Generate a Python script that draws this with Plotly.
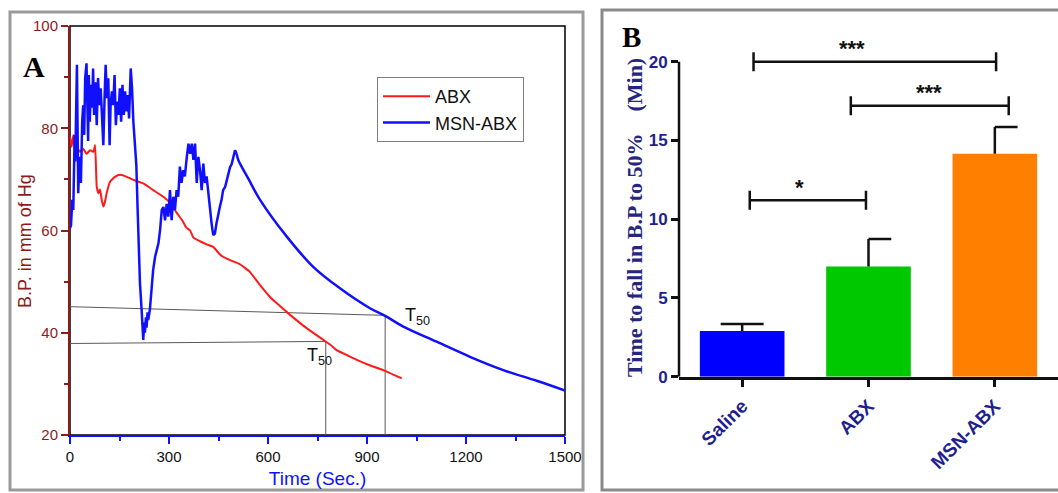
import plotly.graph_objects as go

W, H = 1058, 493

# ---------------- Panel A: blood pressure vs time ----------------
abx_time = [0, 5, 10, 15, 20, 30, 40, 50, 61, 71, 76, 81, 86, 91, 96, 101, 106, 111,
            121, 136, 152, 172, 192, 222, 252, 283, 303, 323, 340, 352, 364, 374, 394,
            414, 434, 449, 460, 485, 515, 545, 576, 606, 626, 667, 717, 768, 790, 808,
            840, 869, 910, 949, 1005]
abx_bp = [78.3, 76.4, 78.7, 75.8, 76.4, 75.4, 76.0, 75.0, 75.7, 75.4, 76.7, 68.6, 67.3,
          68.0, 66.0, 64.7, 65.6, 67.3, 69.5, 70.5, 70.9, 70.5, 69.9, 69.2, 67.9, 66.6,
          65.4, 63.5, 62.0, 60.6, 60.0, 58.6, 57.9, 57.3, 56.8, 55.7, 55.0, 54.2, 53.4,
          51.9, 49.3, 47.0, 45.8, 43.5, 40.9, 38.6, 37.6, 36.6, 35.6, 34.7, 33.6, 32.7,
          31.1]

msn_time = [0, 3, 7, 10, 14, 16, 21, 25, 29, 33, 37, 40, 43, 46, 50, 53, 55, 57, 60,
            63, 67, 70, 73, 77, 81, 85, 89, 93, 97, 101, 105, 108, 112, 116, 120, 123,
            127, 131, 135, 139, 143, 147, 151, 155, 159, 163, 167, 171, 175, 179, 184,
            188, 192, 196, 201, 205, 209, 212, 217, 222, 225, 227, 230, 232, 235, 237,
            242, 247, 252, 258, 263, 268, 273, 278, 283, 288, 293, 298, 303, 308, 313,
            318, 323, 328, 333, 338, 343, 348, 354, 359, 364, 369, 374, 379, 384, 389,
            394, 399, 404, 409, 414, 419, 424, 429, 434, 439, 444, 449, 454, 459, 464,
            470, 475, 480, 485, 490, 495, 500, 505]
msn_bp = [60.5, 61.0, 66.0, 64.0, 78.7, 73.5, 92.4, 67.3, 74.4, 69.3, 81.3, 84.5, 78.7,
          89.8, 92.7, 84.5, 77.5, 90.4, 81.3, 88.5, 84.0, 91.7, 82.6, 89.0, 80.6, 89.8,
          84.5, 87.8, 81.3, 76.7, 86.5, 92.4, 85.9, 89.8, 76.7, 84.5, 87.2, 84.5, 90.4,
          80.6, 85.2, 82.6, 87.8, 81.3, 88.5, 82.6, 87.2, 83.3, 86.5, 81.9, 91.7, 87.8,
          81.3, 77.4, 72.8, 64.0, 56.0, 49.7, 44.5, 38.6, 42.0, 40.0, 43.0, 41.0, 44.0,
          42.5, 44.5, 48.4, 52.3, 54.9, 56.2, 57.5, 60.1, 64.0, 64.6, 62.0, 65.2, 62.7,
          67.9, 62.0, 66.6, 64.0, 67.9, 66.6, 72.5, 69.3, 71.8, 70.6, 74.4, 77.0, 75.0,
          77.0, 73.8, 77.0, 69.3, 74.4, 71.8, 67.9, 73.1, 69.3, 70.6, 67.3, 64.6, 61.4,
          59.1, 59.4, 61.4, 63.3, 64.6, 65.9, 67.9, 68.5, 69.8, 71.1, 72.4, 73.0, 74.4,
          75.7, 75.0]
# smooth fall after the last peak
msn_decay_time = [505, 510, 540, 576, 657, 737, 818, 909, 955, 1010, 1111, 1212, 1313,
                  1414, 1500]
msn_decay_bp = [75.0, 73.8, 70.2, 66.0, 58.8, 52.9, 48.7, 44.8, 43.3, 41.2, 38.25, 35.3,
                32.7, 30.6, 28.7]

# T50 construction: level at t = 0, level at T50, and the T50 time
t50_time = [775, 955]
t50_start_bp = [37.9, 45.1]
t50_end_bp = [38.3, 43.4]
t50_label_pos = [(712, 35.4), (1008, 43.2)]

# ---------------- Panel B: time to 50 % fall ----------------
groups = ["Saline", "ABX", "MSN-ABX"]
fall_mean = [2.9, 7.0, 14.15]
fall_sem = [0.45, 1.75, 1.7]

sig_from = [0.09, 0.86, 0.06]
sig_to = [2.01, 2.11, 0.98]
sig_level = [20.0, 17.2, 11.2]
sig_text = ["***", "***", "*"]
sig_text_x = [0.87, 1.48, 0.45]

# ---------------- styling ----------------
RED = "#ff1a1a"
BLUE = "#1010ff"
DARKRED = "#8e1b1b"
NAVY = "#1f1f8f"
bar_colors = ["#0000ff", "#00c800", "#ff7f00"]
cap_left = [0.17, 0.0, 0.0]
cap_right = [0.17, 0.18, 0.18]
SANS = "Liberation Sans, Arial, sans-serif"
SERIF = "Liberation Serif, Times New Roman, serif"
NBSP = "\u00a0"

fig = go.Figure()

# T50 guide lines
for t, b0, b1 in zip(t50_time, t50_start_bp, t50_end_bp):
    fig.add_trace(go.Scatter(x=[0, t, t], y=[b0, b1, 20], mode="lines",
                             line=dict(color="#5a5a5a", width=1), showlegend=False,
                             hoverinfo="skip", xaxis="x", yaxis="y"))

fig.add_trace(go.Scatter(x=abx_time, y=abx_bp, mode="lines", name="ABX",
                         line=dict(color=RED, width=2, shape="spline", smoothing=0.4),
                         xaxis="x", yaxis="y"))
fig.add_trace(go.Scatter(x=msn_time, y=msn_bp, mode="lines", name="MSN-ABX",
                         legendgroup="msn", line=dict(color=BLUE, width=2.5),
                         xaxis="x", yaxis="y"))
fig.add_trace(go.Scatter(x=msn_decay_time, y=msn_decay_bp, mode="lines",
                         legendgroup="msn", showlegend=False,
                         line=dict(color=BLUE, width=2.5, shape="spline"),
                         xaxis="x", yaxis="y"))

# Panel B bars
fig.add_trace(go.Bar(x=list(range(len(groups))), y=fall_mean, width=0.67,
                     marker=dict(color=bar_colors, line=dict(width=0)),
                     showlegend=False, xaxis="x2", yaxis="y2"))

# error bars (upper only)
for i, (m, s) in enumerate(zip(fall_mean, fall_sem)):
    fig.add_trace(go.Scatter(
        x=[i, i, None, i - cap_left[i], i + cap_right[i]],
        y=[m, m + s, None, m + s, m + s], mode="lines",
        line=dict(color="#111111", width=2.5), showlegend=False,
        hoverinfo="skip", xaxis="x2", yaxis="y2"))

# significance brackets
for a, b, lvl in zip(sig_from, sig_to, sig_level):
    fig.add_trace(go.Scatter(
        x=[a, a, None, a, b, None, b, b],
        y=[lvl - 0.6, lvl + 0.6, None, lvl, lvl, None, lvl - 0.6, lvl + 0.6],
        mode="lines", line=dict(color="#111111", width=2.5), showlegend=False,
        hoverinfo="skip", xaxis="x2", yaxis="y2"))

annotations = []
for txt, tx, lvl in zip(sig_text, sig_text_x, sig_level):
    annotations.append(dict(x=tx, y=lvl - 0.1, xref="x2", yref="y2", text=f"<b>{txt}</b>",
                            showarrow=False, yanchor="bottom",
                            font=dict(family=SANS, size=22, color="#111111")))

for (lx, ly) in t50_label_pos:
    annotations.append(dict(x=lx, y=ly, xref="x", yref="y", text="T<sub>50</sub>",
                            showarrow=False, xanchor="left", yanchor="middle",
                            font=dict(family=SANS, size=18, color="#111111")))

# panel A value-axis title
annotations.append(dict(x=25 / W, y=1 - 241 / H, xref="paper", yref="paper",
                        text="B.P. in mm of Hg", textangle=-90, showarrow=False,
                        xanchor="center", yanchor="middle",
                        font=dict(family=SANS, size=18, color=DARKRED)))

# panel B value-axis title
annotations.append(dict(x=634 / W, y=1 - 218 / H, xref="paper", yref="paper",
                        text="<b>Time to fall in B.P to 50%" + NBSP * 4 + "(Min)</b>",
                        textangle=-90, showarrow=False, xanchor="center", yanchor="middle",
                        font=dict(family=SERIF, size=22, color="#26267f")))

annotations.append(dict(x=21 / W, y=1 - 67 / H, xref="paper", yref="paper", text="<b>A</b>",
                        showarrow=False, xanchor="left", yanchor="middle",
                        font=dict(family=SERIF, size=30, color="black")))
annotations.append(dict(x=620 / W, y=1 - 37 / H, xref="paper", yref="paper", text="<b>B</b>",
                        showarrow=False, xanchor="left", yanchor="middle",
                        font=dict(family=SERIF, size=29, color="black")))

shapes = [
    # panel frames
    dict(type="rect", xref="paper", yref="paper", x0=10 / W, x1=583 / W,
         y0=1 - 490 / H, y1=1 - 12 / H, line=dict(color="#9a9a9a", width=3)),
    dict(type="rect", xref="paper", yref="paper", x0=602 / W, x1=1.05,
         y0=1 - 490 / H, y1=1 - 10 / H, line=dict(color="#8a8a8a", width=3)),
    # black box around panel A plot area
    dict(type="rect", xref="x domain", yref="y domain", x0=0, x1=1, y0=0, y1=1,
         line=dict(color="black", width=1.5), layer="below"),
    # panel B value axis line, drawn up to the last tick
    dict(type="line", xref="x2 domain", yref="y2", x0=0, x1=0, y0=0, y1=20,
         line=dict(color="#111111", width=2.5)),
]

fig.update_layout(
    template="none",
    width=W, height=H, margin=dict(l=0, r=0, t=0, b=0, autoexpand=False),
    paper_bgcolor="white", plot_bgcolor="rgba(0,0,0,0)",
    font=dict(family=SANS),
    showlegend=True,
    legend=dict(x=377 / W, y=1 - 77 / H, xanchor="left", yanchor="top",
                bordercolor="#808080", borderwidth=1, bgcolor="white",
                font=dict(family=SANS, size=18, color="#111111"), itemwidth=47,
                tracegroupgap=0),
    xaxis=dict(domain=[70 / W, 565 / W], range=[0, 1500], anchor="y", automargin=False,
               tickvals=[0, 300, 600, 900, 1200, 1500], ticks="outside", ticklen=7,
               tickwidth=2, tickcolor=BLUE, showline=True, linecolor=BLUE, linewidth=2,
               showgrid=False, zeroline=False,
               minor=dict(ticks="outside", dtick=150, ticklen=4, tickwidth=2, tickcolor=BLUE),
               tickfont=dict(family=SANS, size=15, color="#111111"),
               title=dict(text="Time (Sec.)", standoff=8,
                          font=dict(family=SANS, size=19, color=BLUE))),
    yaxis=dict(domain=[1 - 435 / H, 1 - 26 / H], range=[20, 100], anchor="x",
               automargin=False,
               tickvals=[20, 40, 60, 80, 100], ticks="outside", ticklen=7, tickwidth=2,
               tickcolor=DARKRED, showline=True, linecolor=DARKRED, linewidth=2,
               showgrid=False, zeroline=False,
               minor=dict(ticks="outside", dtick=10, ticklen=4, tickwidth=2, tickcolor=DARKRED),
               tickfont=dict(family=SANS, size=15, color=DARKRED)),
    xaxis2=dict(domain=[679 / W, 1.0], range=[-0.5, 2.5], anchor="y2", automargin=False,
                tickvals=[0, 1, 2], ticktext=groups, tickangle=-45, ticks="outside",
                ticklen=8, tickwidth=2.5, tickcolor="#111111", showline=True,
                linecolor="#111111", linewidth=2.5, showgrid=False, zeroline=False,
                tickfont=dict(family=SANS, size=19, color=NAVY, weight="bold")),
    yaxis2=dict(domain=[1 - 376.7 / H, 1 - 30.2 / H], range=[0, 22], anchor="x2",
                automargin=False,
                tickvals=[0, 5, 10, 15, 20], ticks="outside", ticklen=7, tickwidth=2.5,
                tickcolor="#111111", showline=False, showgrid=False, zeroline=False,
                tickfont=dict(family=SANS, size=17, color=NAVY, weight="bold")),
    annotations=annotations,
    shapes=shapes,
)

fig.write_html("out.html")
